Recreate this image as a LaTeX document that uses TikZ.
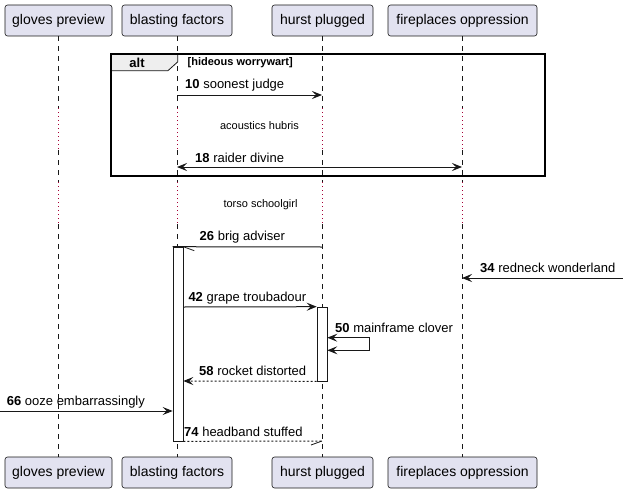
\documentclass[tikz,border=0pt]{standalone}
\usepackage{fontspec}
\setmainfont{Liberation Sans}
\usetikzlibrary{arrows.meta}
\definecolor{lc}{HTML}{181818}
\definecolor{pfill}{HTML}{E2E2F0}
\definecolor{dly}{HTML}{A80036}
\definecolor{tabfill}{HTML}{EEEEEE}
\tikzset{
  part/.style={draw=lc, fill=pfill, rounded corners=2.5pt, line width=0.6pt, minimum height=31pt, inner sep=0pt, font=\fontsize{14}{16}\selectfont},
  lifeline/.style={draw=lc, line width=0.5pt, dash pattern=on 5pt off 5pt},
  delayline/.style={draw=dly, line width=0.8pt, dash pattern=on 1pt off 3pt},
  msg/.style={draw=lc, line width=1pt},
  retmsg/.style={draw=lc, line width=1pt, dash pattern=on 2pt off 2pt},
  arr/.style={-{Stealth[length=10pt,width=8pt,inset=4pt]}},
  barr/.style={{Stealth[length=10pt,width=8pt,inset=4pt]}-{Stealth[length=10pt,width=8pt,inset=4pt]}},
  barb/.style={draw=lc, line width=0.8pt},
  act/.style={draw=lc, fill=white, line width=0.6pt, inner sep=0pt, minimum width=10pt},
  lbl/.style={anchor=west, inner sep=0pt, font=\fontsize{13}{15}\selectfont},
  dlbl/.style={inner sep=0pt, font=\fontsize{11}{13}\selectfont},
}
\begin{document}
\begin{tikzpicture}[x=1pt,y=-1pt]
\useasboundingbox (0,0) rectangle (623,495);
% participants
\node[part, minimum width=107pt] (gl1) at (58.5,20.5) {gloves preview};
\node[part, minimum width=110pt] (bf1) at (177,20.5) {blasting factors};
\node[part, minimum width=101pt] (hp1) at (322.5,20.5) {hurst plugged};
\node[part, minimum width=149pt] (fo1) at (462.5,20.5) {fireplaces oppression};
\node[part, minimum width=107pt] (gl2) at (58.5,472.5) {gloves preview};
\node[part, minimum width=110pt] (bf2) at (177,472.5) {blasting factors};
\node[part, minimum width=101pt] (hp2) at (322.5,472.5) {hurst plugged};
\node[part, minimum width=149pt] (fo2) at (462.5,472.5) {fireplaces oppression};
% lifelines with delays
\foreach \p in {gl,bf,hp,fo}{
  \draw[lifeline] (\p1.south) -- (\p1.south |- 0,108);
  \draw[delayline] (\p1.south |- 0,108) -- (\p1.south |- 0,150);
  \draw[lifeline] (\p1.south |- 0,150) -- (\p1.south |- 0,182);
  \draw[delayline] (\p1.south |- 0,182) -- (\p1.south |- 0,224);
  \draw[lifeline] (\p1.south |- 0,224) -- (\p2.north);
}
% alt frame
\node[minimum width=434pt, minimum height=122pt, inner sep=0pt] (altf) at (328,115) {};
\draw[draw=lc, fill=tabfill, line width=0.8pt] (altf.north west) -- ++(67,0) -- ++(0,8) -- ++(-10,9) -- ++(-57,0) -- cycle;
\draw[black, line width=1.5pt] (altf.north west) rectangle (altf.south east);
\node[inner sep=0pt, font=\bfseries\fontsize{13}{15}\selectfont] (altl) at (137,63) {alt};
\node[anchor=west, inner sep=0pt, font=\bfseries\fontsize{11}{13}\selectfont] (guard) at (187.5,63) {[hideous worrywart]};
% coordinates
\coordinate (m10a) at (177,95);
\coordinate (m10b) at (322,95);
\coordinate (m18a) at (177,167);
\coordinate (m18b) at (462,167);
\coordinate (m26a) at (322,247);
\coordinate (m34a) at (623,278);
\coordinate (m34b) at (462,278);
\coordinate (m66a) at (0,411);
\coordinate (m74b) at (322,441);
% activations
\node[act, minimum height=194pt] (actb) at (178,344) {};
\node[act, minimum height=74pt] (acth) at (322,344) {};
% messages
\draw[msg, arr] (m10a) -- (m10b);
\node[lbl] (l10) at (185,85.5) {\textbf{10} soonest judge};
\node[dlbl] (d1) at (259.5,125.5) {acoustics hubris};
\draw[msg, barr] (m18a) -- (m18b);
\node[lbl] (l18) at (195,158) {\textbf{18} raider divine};
\node[dlbl] (d2) at (260.5,204.5) {torso schoolgirl};
\draw[msg] (m26a) -- (actb.north west);
\draw[barb] (actb.north east) -- ++(11,4);
\node[lbl] (l26) at (199.5,237.5) {\textbf{26} brig adviser};
\draw[msg, arr] (m34a) -- (m34b);
\node[lbl] (l34) at (480,268) {\textbf{34} redneck wonderland};
\draw[msg, arr] (actb.east |- 0,307) -- (acth.north west);
\node[lbl] (l42) at (188.3,298) {\textbf{42} grape troubadour};
\draw[msg, barr] (acth.east |- 0,337.7) -- (369,337.7) -- (369,350.3) -- (acth.east |- 0,350.3);
\node[lbl] (l50) at (335,328) {\textbf{50} mainframe clover};
\draw[retmsg, arr] (acth.south west) -- (actb.east |- 0,381);
\node[lbl] (l58) at (199,371) {\textbf{58} rocket distorted};
\draw[msg, arr] (m66a) -- (actb.west |- 0,411);
\node[lbl] (l66) at (6.7,402.5) {\textbf{66} ooze embarrassingly};
\draw[retmsg] (actb.south east) -- (m74b);
\draw[barb] (m74b) -- ++(-11,4);
\node[lbl] (l74) at (184,432.3) {\textbf{74} headband stuffed};
\end{tikzpicture}
\end{document}
